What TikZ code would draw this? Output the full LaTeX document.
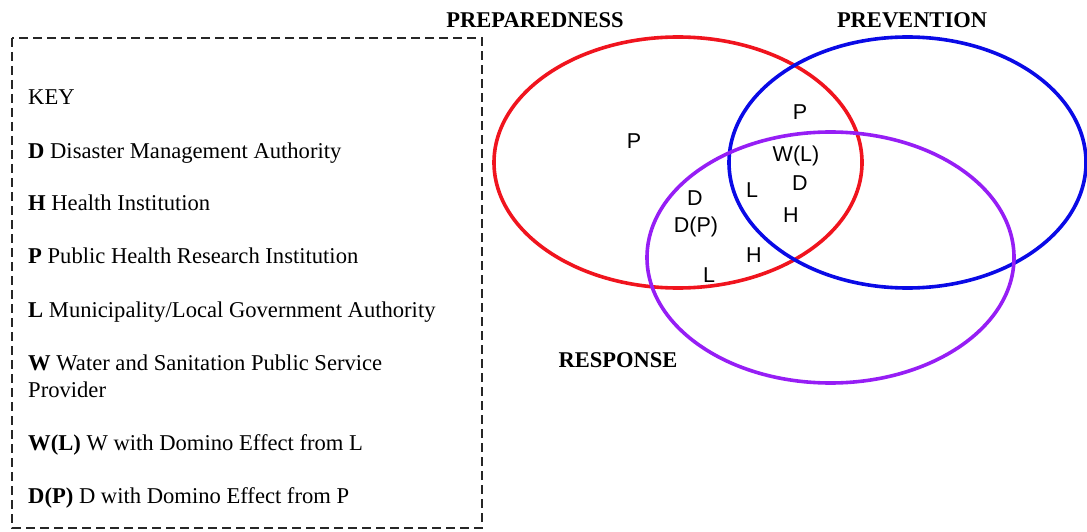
\documentclass[tikz,border=0pt]{standalone}
\usepackage{fontspec}
\setmainfont{Liberation Serif}
\newfontfamily\labelfont{Liberation Sans}
\usetikzlibrary{shapes.geometric}

\definecolor{prepred}{RGB}{240,20,30}
\definecolor{prevblue}{RGB}{10,10,230}
\definecolor{resppurple}{RGB}{150,30,245}

\tikzset{
  phase/.style={ellipse, line width=3.6pt, inner sep=0pt, outer sep=0pt},
  heading/.style={font=\fontsize{22.5}{27}\selectfont\bfseries, inner sep=0pt},
  keyline/.style={anchor=base west, inner sep=0pt, font=\fontsize{22.6}{27}\selectfont},
  actor/.style={font=\labelfont\fontsize{21.5}{25}\selectfont, inner sep=0pt},
  keybox/.style={draw=black!85, line width=1.4pt, dash pattern=on 9pt off 5pt}
}

\begin{document}
\begin{tikzpicture}[x=1pt,y=-1pt]
\useasboundingbox (0,0) rectangle (1087,532);

% legend frame
\draw[keybox] (12,38) rectangle (482,528);

% legend entries
\node[keyline] (k0) at (28,105) {KEY};
\node[keyline] (k1) at (28,158) {\textbf{D} Disaster Management Authority};
\node[keyline] (k2) at (28,210) {\textbf{H} Health Institution};
\node[keyline] (k3) at (28,263) {\textbf{P} Public Health Research Institution};
\node[keyline] (k4) at (28,317) {\textbf{L} Municipality/Local Government Authority};
\node[keyline] (k5) at (28,370) {\textbf{W} Water and Sanitation Public Service};
\node[keyline] (k5b) at (28,397) {Provider};
\node[keyline] (k6) at (28,450) {\textbf{W(L)} W with Domino Effect from L};
\node[keyline] (k7) at (28,503) {\textbf{D(P)} D with Domino Effect from P};

% the three phases
\node[phase, draw=prepred, minimum width=368pt, minimum height=251pt] (prep) at (678,162.5) {};
\node[phase, draw=prevblue, minimum width=357pt, minimum height=251pt] (prev) at (907.5,162.5) {};
\node[phase, draw=resppurple, minimum width=367pt, minimum height=251pt] (resp) at (830.5,257.5) {};

% phase titles
\node[heading] (tprep) at (535,20.5) {PREPAREDNESS};
\node[heading] (tprev) at (912,20.5) {PREVENTION};
\node[heading] (tresp) at (618,360) {RESPONSE};

% actors in each region
\node[actor] (a1) at (634,141) {P};
\node[actor] (a2) at (800,112) {P};
\node[actor] (a3) at (796,156) {W(L)};
\node[actor] (a4) at (800,183) {D};
\node[actor] (a5) at (752,190) {L};
\node[actor] (a6) at (791,215) {H};
\node[actor] (a7) at (695,198) {D};
\node[actor] (a8) at (696,227) {D(P)};
\node[actor] (a9) at (754,255) {H};
\node[actor] (a10) at (709,275) {L};
\end{tikzpicture}
\end{document}
